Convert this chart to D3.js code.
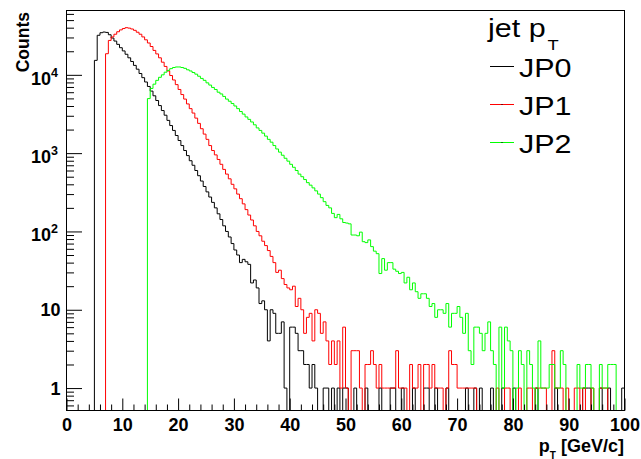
<!DOCTYPE html>
<html><head><meta charset="utf-8">
<script src="https://cdn.jsdelivr.net/npm/d3@7"></script>
<style>html,body{margin:0;padding:0;background:#fff;} svg{display:block;font-family:"Liberation Sans",Arial,Helvetica,sans-serif;}</style>
</head><body>
<svg id="c" width="641" height="459"></svg>
<script>
// ---- data ----
const xRange = [0, 100];
const binWidth = 0.5;
const yRange = [0.517, 66300];
const seriesNames = ["JP0", "JP1", "JP2"];
const legendTitle = "jet p";
const legendTitleSub = "T";
const xTitle = "p";
const xTitleSub = "T";
const xTitleUnit = " [GeV/c]";
const yTitle = "Counts";
const xTickValues = [0, 10, 20, 30, 40, 50, 60, 70, 80, 90, 100];
const yTickDecades = [0, 1, 2, 3, 4];

const jp0 = [
0,0,0,0,0,0,0,0,0,0,
15300,32000,34500,35200,34800,32500,29500,27000,24500,22200,
20200,18300,16500,14800,13200,11800,10400,9200,8100,7100,
6200,5400,4700,4050,3500,3050,2620,2250,1950,1680,
1450,1250,1080,930,800,700,600,515,440,375,
320,275,235,200,168,142,118,100,85,70,
58,50,40,44,41,38,22,24,19,12,
13,10,4,10,9,5,5,7,1,0,
6,6,5,3,3,2,2,1,2,1,
0,0,1,1,0,1,0,1,0,1,
1,0,0,1,0,0,0,1,0,0,
0,0,1,0,0,0,1,1,0,0,
1,0,0,0,1,0,0,0,1,1,
0,0,1,0,0,0,1,0,0,0,
0,0,0,1,0,0,1,0,1,0,
0,0,1,0,0,0,1,0,0,0,
1,0,0,0,0,0,0,0,1,0,
0,0,0,0,0,1,0,0,0,0,
0,0,0,0,0,1,1,1,0,0,
0,1,0,0,1,0,0,0,0,1
];
const jp1 = [
0,0,0,0,0,0,0,0,0,0,
0,0,0,0,18600,27500,30500,33000,35500,37500,
39000,40000,39500,38500,37000,35000,33000,30500,28000,25500,
23000,20500,18500,16500,14500,12800,11200,9800,8600,7500,
6500,5600,4900,4250,3700,3250,2800,2400,2050,1750,
1500,1250,1080,950,830,720,620,540,470,400,
350,300,262,225,190,162,140,118,100,88,
75,66,57,48,40,30,32,25,21,19,
18,20,11,14,10,5,8,9,4,10,
9,5,7,4,2,4,2,4,1,6,
1,0,3,3,3,1,0,2,2,3,
2,1,2,1,1,1,1,1,3,1,
1,1,0,2,1,1,2,0,2,2,
1,2,1,1,1,0,1,3,2,2,
1,1,1,1,1,1,1,0,0,0,
0,0,0,0,1,0,0,1,1,0,
0,0,1,0,0,1,1,0,1,1,
1,1,0,0,3,1,1,1,0,1,
0,0,1,1,0,1,0,0,1,0,
0,1,1,1,0,0,0,0,0,0
];
const jp2 = [
0,0,0,0,0,0,0,0,0,0,
0,0,0,0,0,0,0,0,0,0,
0,0,0,0,0,0,0,0,0,4970,
6700,7600,8500,9300,10000,10800,11400,12000,12400,12600,
12600,12400,12100,11600,11200,10700,10200,9600,9000,8500,
7900,7400,6900,6500,6000,5700,5300,4900,4600,4300,
4000,3700,3400,3150,2900,2700,2500,2300,2100,1950,
1800,1650,1500,1380,1250,1130,1030,940,860,790,
720,660,600,540,500,460,420,390,360,330,
300,270,240,215,200,170,150,165,145,130,
128,125,90,90,88,98,74,72,78,64,
56,52,29,45,32,40,40,33,31,29,
30,22,26,18,22,17,14,16,16,14,
11,12,8,10,10,9,12,6,9,9,
11,8,5,9,3,2,6,6,5,3,
5,7,3,2,0,6,1,6,4,3,
0,1,3,2,0,3,2,1,0,4,
1,1,1,2,2,1,1,3,2,0,
0,0,0,2,1,1,2,2,1,0,
0,2,1,1,2,2,2,0,0,0
];
const seriesData = [jp0, jp1, jp2];
const seriesColors = ["#000000", "#ff0000", "#00ff00"];

// ---- layout ----
const frame = {left: 66.5, right: 624.5, top: 10.5, bottom: 410.5};
const x = d3.scaleLinear().domain(xRange).range([frame.left, frame.right]);
const y = d3.scaleLog().domain(yRange).range([frame.bottom, frame.top]);
const svg = d3.select("#c");

// histograms
const nb = jp0.length;
const edges = d3.range(nb + 1).map(i => xRange[0] + i * binWidth);
const line = d3.line()
  .x(d => x(d[0]))
  .y(d => y(Math.max(d[1], yRange[0])))
  .curve(d3.curveStepAfter);
seriesData.forEach((counts, k) => {
  const pts = counts.map((c, i) => [edges[i], c]);
  pts.push([edges[nb], counts[nb - 1]]);
  svg.append("path").attr("d", line(pts))
    .attr("fill", "none").attr("stroke", seriesColors[k]).attr("stroke-width", 1);
});

// frame
svg.append("rect").attr("x", frame.left).attr("y", frame.top)
  .attr("width", frame.right - frame.left).attr("height", frame.bottom - frame.top)
  .attr("fill", "none").attr("stroke", "#000").attr("stroke-width", 1);

// x axis
const xMinor = d3.range(0, 101, 2).filter(v => v % 10 !== 0);
const gxMinor = svg.append("g").attr("transform", `translate(0,${frame.bottom})`)
  .call(d3.axisBottom(x).tickValues(xMinor).tickSize(-6).tickFormat(""));
const gx = svg.append("g").attr("transform", `translate(0,${frame.bottom})`)
  .call(d3.axisBottom(x).tickValues(xTickValues).tickSize(-12).tickFormat(d3.format("d")));
[gxMinor, gx].forEach(g => { g.select(".domain").remove(); g.selectAll("line").attr("stroke", "#000"); });
gx.selectAll("text").attr("y", 20).attr("dy", null)
  .attr("font-size", 18).attr("font-weight", "bold").attr("fill", "#000")
  .attr("font-family", "'Liberation Sans',Arial,sans-serif");

// y axis
const yMinor = [];
for (let d = -1; d <= 4; d++) for (let m = 2; m <= 9; m++) {
  const v = m * Math.pow(10, d);
  if (v > yRange[0] && v < yRange[1]) yMinor.push(v);
}
const yMajor = yTickDecades.map(d => Math.pow(10, d));
const gyMinor = svg.append("g").attr("transform", `translate(${frame.left},0)`)
  .call(d3.axisLeft(y).tickValues(yMinor).tickSize(-7.5).tickFormat(""));
const gy = svg.append("g").attr("transform", `translate(${frame.left},0)`)
  .call(d3.axisLeft(y).tickValues(yMajor).tickSize(-15.5).tickFormat(""));
[gyMinor, gy].forEach(g => { g.select(".domain").remove(); g.selectAll("line").attr("stroke", "#000"); });

yTickDecades.forEach(d => {
  const py = y(Math.pow(10, d));
  if (d === 0 || d === 1) {
    svg.append("text").attr("x", 60.5).attr("y", py + 6.5)
      .attr("text-anchor", "end").attr("font-size", 18).attr("font-weight", "bold")
      .text(d === 0 ? "1" : "10");
  } else {
    const t = svg.append("text").attr("x", 58).attr("y", py + 10)
      .attr("text-anchor", "end").attr("font-size", 18).attr("font-weight", "bold");
    t.append("tspan").text("10");
    t.append("tspan").attr("dy", -8).attr("font-size", 12.5).text(String(d));
  }
});

// axis titles
svg.append("text")
  .attr("transform", "translate(28.5,12) rotate(-90)")
  .attr("text-anchor", "end").attr("font-size", 17.5).attr("font-weight", "bold")
  .text(yTitle);
const xt = svg.append("text").attr("x", 624).attr("y", 451.5)
  .attr("text-anchor", "end").attr("font-size", 18).attr("font-weight", "bold");
xt.append("tspan").text(xTitle);
xt.append("tspan").attr("dy", 7).attr("font-size", 10).text(xTitleSub);
xt.append("tspan").attr("dy", -7).text(xTitleUnit);

// legend
const lg = svg.append("g");
const titleT = lg.append("text").attr("transform", "translate(488,36.5) scale(1.22,1)")
  .attr("font-size", 25);
titleT.append("tspan").text(legendTitle);
titleT.append("tspan").attr("dx", 1.5).attr("dy", 14).attr("font-size", 15).text(legendTitleSub);
const baselines = [76.5, 114.5, 152.5];
seriesNames.forEach((name, k) => {
  const ly = baselines[k] - 10;
  lg.append("line").attr("x1", 490).attr("x2", 514).attr("y1", ly).attr("y2", ly)
    .attr("stroke", seriesColors[k]).attr("stroke-width", 1);
  lg.append("rect").attr("x", 501.5).attr("y", ly - 0.5).attr("width", 1).attr("height", 1).attr("fill", "#000");
  lg.append("text").attr("transform", `translate(519,${baselines[k]}) scale(1.22,1)`)
    .attr("font-size", 25).text(name);
});
</script>
</body></html>
